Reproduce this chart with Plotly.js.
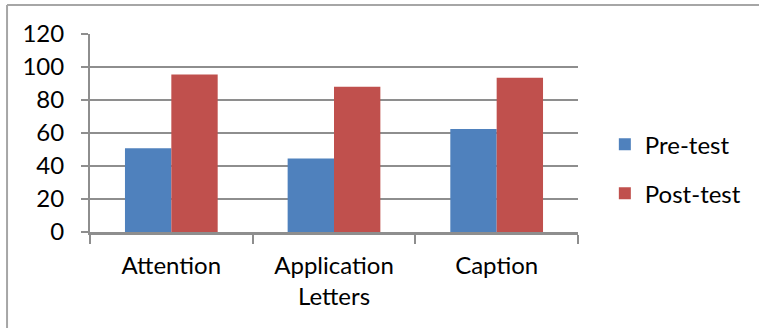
<!DOCTYPE html>
<html>
<head>
<meta charset="utf-8">
<script src="https://cdn.plot.ly/plotly-3.0.1.min.js"></script>
<style>
  html, body { margin: 0; padding: 0; background: #ffffff; }
  #chart { width: 759px; height: 328px; }
</style>
</head>
<body>
<div id="chart"></div>
<script>
// Skill areas on the x axis (second line of a label after <br>)
const categories = ["Attention", "Application<br>Letters", "Caption"];
// Scores before and after the treatment
const preTest  = [50.8, 44.6, 62.5];
const postTest = [95.5, 88.0, 93.5];
const seriesNames = ["Pre-test", "Post-test"];
const yTicks = [0, 20, 40, 60, 80, 100, 120];

const FONT = "Lato, 'Open Sans', sans-serif";
const GRID = "#8e8e8e";

const traces = [
  {
    type: "bar", name: seriesNames[0], x: categories, y: preTest,
    marker: { color: "#4F81BD", line: { width: 0 } },
    legendgroup: "a", hoverinfo: "none"
  },
  {
    type: "bar", name: seriesNames[1], x: categories, y: postTest,
    marker: { color: "#C0504D", line: { width: 0 } },
    legendgroup: "b", hoverinfo: "none"
  }
];

// Frame lines along the top and left of the figure
const frameColor = "#a6a6a6";
const layout = {
  width: 759, height: 328,
  margin: { l: 90, r: 181, t: 34, b: 96, pad: 0 },
  paper_bgcolor: "#ffffff", plot_bgcolor: "#ffffff",
  font: { family: FONT, size: 24, color: "#000000" },
  barmode: "group",
  bargap: 0.43, bargroupgap: 0,
  showlegend: true,
  legend: {
    x: 1.055, xanchor: "left", y: 0.318, yanchor: "middle",
    traceorder: "grouped", tracegroupgap: 15,
    font: { family: FONT, size: 24, color: "#000000" },
    bgcolor: "rgba(0,0,0,0)", borderwidth: 0, itemwidth: 30
  },
  xaxis: {
    type: "category",
    showgrid: false, zeroline: false,
    showline: true, linecolor: GRID, linewidth: 3,
    ticks: "outside", tickson: "boundaries", ticklen: 9, tickwidth: 2, tickcolor: GRID,
    tickfont: { family: FONT, size: 24, color: "#000000" },
    ticklabelstandoff: 10,
    fixedrange: true
  },
  yaxis: {
    range: [0, 120],
    tickvals: yTicks, ticktext: yTicks.map(String),
    showgrid: true, gridcolor: GRID, gridwidth: 2,
    zeroline: false,
    showline: true, linecolor: GRID, linewidth: 2,
    ticks: "outside", ticklen: 7, tickwidth: 2, tickcolor: GRID,
    tickfont: { family: FONT, size: 24, color: "#000000" },
    ticklabelstandoff: 12,
    fixedrange: true
  },
  shapes: [
    { type: "line", xref: "paper", yref: "paper",
      x0: -0.17, x1: 1.4, y0: 1.146, y1: 1.146,
      line: { color: frameColor, width: 2 } },
    { type: "line", xref: "paper", yref: "paper",
      x0: -0.17, x1: -0.17, y0: 1.146, y1: -0.6,
      line: { color: frameColor, width: 2 } }
  ]
};

Plotly.newPlot("chart", traces, layout, { displayModeBar: false, staticPlot: true });
</script>
</body>
</html>
